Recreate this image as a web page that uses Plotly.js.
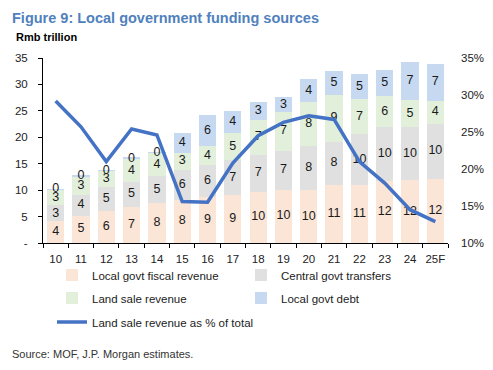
<!DOCTYPE html>
<html><head><meta charset="utf-8">
<script src="https://cdn.plot.ly/plotly-3.0.1.min.js"></script>
<style>html,body{margin:0;padding:0;background:#fff;}#chart{width:493px;height:370px;}</style>
</head><body><div id="chart"></div>
<script>
const years = ['10','11','12','13','14','15','16','17','18','19','20','21','22','23','24','25F'];
const localFiscal = [4.1, 5.2, 6.05, 6.9, 7.6, 8.2, 8.7, 9.1, 9.7, 10.1, 10.0, 11.0, 10.9, 11.7, 11.9, 12.2];
const centralTransfers = [3.0, 3.9, 4.6, 4.7, 5.05, 5.6, 6.0, 6.55, 7.0, 7.4, 8.3, 8.2, 9.65, 10.3, 10.1, 10.4];
const landSale = [3.0, 3.4, 2.9, 4.2, 4.3, 3.3, 3.7, 5.2, 6.6, 7.3, 8.4, 8.8, 6.75, 5.8, 5.0, 4.3];
const localDebt = [0.2, 0.4, 0.25, 0.4, 0.3, 3.7, 5.8, 4.2, 3.4, 2.8, 4.3, 4.6, 4.6, 4.9, 7.2, 7.0];
const landSharePct = [29.2, 25.7, 21.0, 25.4, 24.6, 15.6, 15.5, 20.8, 24.5, 26.3, 27.2, 26.7, 21.0, 18.1, 14.5, 12.9];
const seriesNames = ['Local govt fiscal revenue', 'Central govt transfers', 'Land sale revenue', 'Local govt debt'];
const lineName = 'Land sale revenue as % of total';
const leftTickVals = [0, 5, 10, 15, 20, 25, 30, 35];
const leftTickText = ['-', '5', '10', '15', '20', '25', '30', '35'];
const rightTickVals = [10, 15, 20, 25, 30, 35];
const rightTickText = ['10%', '15%', '20%', '25%', '30%', '35%'];
const titleText = 'Figure 9: Local government funding sources';
const unitText = 'Rmb trillion';
const sourceText = 'Source: MOF, J.P. Morgan estimates.';

const colors = ['#fbe5d6', '#e0e0e0', '#e2efda', '#c6d9f1'];
const legendIds = ['legend', 'legend', 'legend2', 'legend2'];
const FONT = 'Liberation Sans, Arial, sans-serif';

const stacks = [localFiscal, centralTransfers, landSale, localDebt];
const traces = stacks.map((vals, i) => ({
  type: 'bar', x: years, y: vals, name: seriesNames[i],
  marker: {color: colors[i], line: {width: 0}},
  legend: legendIds[i], hoverinfo: 'skip'
}));

// data labels at the middle of each segment
const lx = [], ly = [], lt = [];
years.forEach((yr, j) => {
  let base = 0;
  stacks.forEach(vals => {
    lx.push(yr); ly.push(base + vals[j] / 2); lt.push(String(Math.round(vals[j])));
    base += vals[j];
  });
});
traces.push({
  type: 'scatter', mode: 'text', x: lx, y: ly, text: lt, showlegend: false,
  textfont: {family: FONT, size: 12.5, color: '#1a1a1a'}, hoverinfo: 'skip'
});
traces.push({
  type: 'scatter', mode: 'lines', x: years, y: landSharePct, yaxis: 'y2', name: lineName,
  line: {color: '#4472c4', width: 3.5}, legend: 'legend3', hoverinfo: 'skip'
});

const px = p => (p - 43) / 405;
const py = p => (243 - p) / 185;
const legendBase = {
  orientation: 'h', x: px(52), xanchor: 'left', yanchor: 'middle',
  entrywidth: 144, entrywidthmode: 'pixels', bgcolor: 'rgba(0,0,0,0)',
  font: {family: FONT, size: 11.5, color: '#222'}, traceorder: 'normal'
};

const layout = {
  width: 493, height: 370,
  margin: {l: 43, r: 45, t: 58, b: 127, pad: 0},
  paper_bgcolor: '#fff', plot_bgcolor: '#fff',
  barmode: 'stack', bargap: 0.32,
  font: {family: FONT, color: '#222'},
  xaxis: {
    type: 'category', range: [-0.5, 15.5], showline: true, linecolor: '#000', linewidth: 1,
    ticks: 'outside', tickson: 'boundaries', ticklen: 4, tickcolor: '#000', tickangle: 0,
    tickfont: {family: FONT, size: 11.5, color: '#222'}, ticklabelstandoff: 5,
    showgrid: false, zeroline: false, fixedrange: true
  },
  yaxis: {
    range: [0, 35], tickvals: leftTickVals, ticktext: leftTickText, showline: true,
    linecolor: '#000', linewidth: 1, ticks: 'outside', ticklen: 4, tickcolor: '#000',
    tickfont: {family: FONT, size: 11.5, color: '#222'}, ticklabelstandoff: 8,
    showgrid: false, zeroline: false, fixedrange: true
  },
  yaxis2: {
    overlaying: 'y', side: 'right', range: [10, 35], tickvals: rightTickVals, ticktext: rightTickText,
    showline: false, ticks: '', tickfont: {family: FONT, size: 11.5, color: '#222'},
    ticklabelstandoff: 12, showgrid: false, zeroline: false, fixedrange: true
  },
  legend: Object.assign({}, legendBase, {y: py(275)}),
  legend2: Object.assign({}, legendBase, {y: py(298)}),
  legend3: Object.assign({}, legendBase, {y: py(322), entrywidth: 300}),
  annotations: [
    {text: '<b>' + titleText + '</b>', xref: 'paper', yref: 'paper', x: px(10), y: py(17.5),
     xanchor: 'left', yanchor: 'middle', showarrow: false,
     font: {family: FONT, size: 14.5, color: '#4f81bd'}},
    {text: '<b>' + unitText + '</b>', xref: 'paper', yref: 'paper', x: px(14), y: py(37),
     xanchor: 'left', yanchor: 'middle', showarrow: false,
     font: {family: FONT, size: 11, color: '#000'}},
    {text: sourceText, xref: 'paper', yref: 'paper', x: px(10), y: py(354),
     xanchor: 'left', yanchor: 'middle', showarrow: false,
     font: {family: FONT, size: 11, color: '#333'}}
  ]
};

Plotly.newPlot('chart', traces, layout, {displayModeBar: false, staticPlot: true});
</script>
</body></html>
